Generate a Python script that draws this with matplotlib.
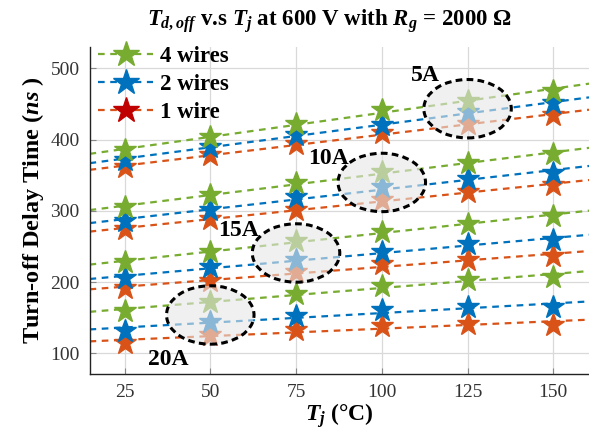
import numpy as np
import matplotlib
matplotlib.use("Agg")
import matplotlib.pyplot as plt
from matplotlib.patches import Ellipse
from matplotlib.lines import Line2D

plt.rcParams['font.family'] = 'Liberation Serif'
plt.rcParams['mathtext.fontset'] = 'custom'
plt.rcParams['mathtext.rm'] = 'Liberation Serif:bold'
plt.rcParams['mathtext.it'] = 'Liberation Serif:bold:italic'
plt.rcParams['mathtext.bf'] = 'Liberation Serif:bold'

# junction temperature (degC)
tj = [25, 50, 75, 100, 125, 150]
currents = ['5A', '10A', '15A', '20A']

# turn-off delay time (ns), one list per current
wire4 = [[385, 404, 422, 441, 455, 469],
         [305, 323, 339, 354, 368, 380],
         [228, 243, 258, 271, 282, 293],
         [160, 172, 184, 195, 203, 208]]
wire2 = [[372, 390, 407, 420, 439, 451],
         [286, 301, 319, 334, 345, 353],
         [206, 221, 231, 243, 253, 259],
         [132, 144, 153, 161, 165, 165]]
wire1 = [[362, 378, 394, 409, 422, 434],
         [274, 289, 302, 316, 326, 336],
         [192, 202, 214, 225, 231, 237],
         [114, 126, 133, 138, 142, 140]]

# highlighted temperature per current
hl_tj = [125, 100, 75, 50]

green = '#77AC30'
blue = '#0072BD'
orange = '#D95319'

fig = plt.figure(figsize=(5.89, 4.32), dpi=100)
ax = fig.add_axes([0.152, 0.134, 0.848, 0.757])
xlim = (14.8, 160.4)
ax.set_xlim(xlim)
ax.set_ylim(71, 530)

xs = np.array(xlim)
for series, col in [(wire1, orange), (wire2, blue), (wire4, green)]:
    for vals in series:
        k, b = np.polyfit(tj, vals, 1)
        ax.plot(xs, k * xs + b, ls=(0, (3, 2.5)), color=col, lw=1.6, zorder=2)
        ax.plot(tj, vals, ls='none', marker='*', ms=17, color=col,
                mec=col, zorder=3)

# highlight ellipses
for i, cur in enumerate(currents):
    x0 = hl_tj[i]
    idx = tj.index(x0)
    yc = (wire4[i][idx] + wire1[i][idx]) / 2 + 5
    e = Ellipse((x0, yc), 25.5, 82, facecolor=(0.9, 0.9, 0.9, 0.6),
                edgecolor='black', lw=2.2, ls=(0, (2.2, 1.4)), zorder=4)
    ax.add_patch(e)

label_pos = [(112.8, 490), (84.5, 373), (58.1, 272), (37.8, 91)]
for cur, (lx, ly) in zip(currents, label_pos):
    ax.text(lx, ly, cur, fontsize=17, fontweight='bold', ha='center',
            va='center', zorder=5)

ax.set_xticks(tj)
ax.set_yticks([100, 200, 300, 400, 500])
ax.grid(True, color='#d9d9d9', lw=0.9)
ax.set_axisbelow(True)
ax.tick_params(direction='in', length=4, labelsize=14, labelcolor='#333333',
               color='#888888', pad=7)
for s in ['top', 'right']:
    ax.spines[s].set_visible(False)
for s in ['left', 'bottom']:
    ax.spines[s].set_color('#222222')
    ax.spines[s].set_linewidth(1.0)

ax.set_xlabel('$T_j$ (°C)', fontsize=17, fontweight='bold', labelpad=0)
ax.set_ylabel('Turn-off Delay Time ($ns$ )', fontsize=17.5, fontweight='bold',
              labelpad=3)
fig.text(0.56, 0.952, '$T_{d,off}$ v.s $T_j$ at 600 V with $R_g$ = 2000 Ω',
         fontsize=16.5, fontweight='bold', ha='center', va='center')

handles = [
    Line2D([], [], ls=(0, (3, 2.5)), lw=1.6, color=green, marker='*', ms=19),
    Line2D([], [], ls=(0, (3, 2.5)), lw=1.6, color=blue, marker='*', ms=19),
    Line2D([], [], ls=(0, (3, 2.5)), lw=1.6, color=orange, marker='*', ms=19,
           mfc='#C00000', mec='#C00000'),
]
leg = ax.legend(handles, ['4 wires', '2 wires', '1 wire'], loc='upper left',
                bbox_to_anchor=(-0.01, 1.045), frameon=False,
                prop={'weight': 'bold', 'size': 16.5}, handlelength=2.4,
                handletextpad=0.3, labelspacing=0.3, borderaxespad=0.2)
leg.set_zorder(6)

fig.savefig('out.png', dpi=100)
